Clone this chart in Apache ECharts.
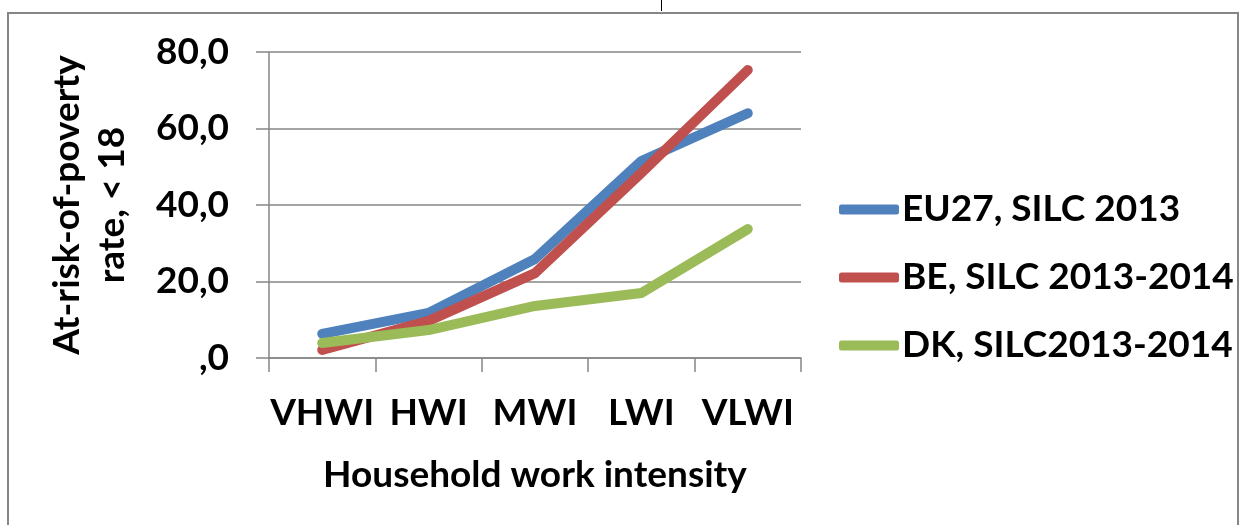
<!DOCTYPE html>
<html>
<head>
<meta charset="utf-8">
<style>
  html, body { margin: 0; padding: 0; background: #fff; }
  #chart { width: 1248px; height: 525px; }
</style>
<script src="https://cdn.jsdelivr.net/npm/echarts@6/dist/echarts.min.js"></script>
</head>
<body>
<div id="chart"></div>
<script>
// household work intensity categories
const categories = ['VHWI', 'HWI', 'MWI', 'LWI', 'VLWI'];
const seriesNames = ['EU27, SILC 2013', 'BE, SILC 2013-2014', 'DK, SILC2013-2014'];
const eu27 = [6.3, 11.8, 25.9, 51.5, 64.0];
const be = [2.1, 9.7, 22.2, 48.4, 75.3];
const dk = [3.9, 7.3, 13.6, 17.0, 33.7];
const colors = ['#4F81BD', '#C0504D', '#9BBB59'];

const FONT = "Lato, 'Open Sans', sans-serif";
const FS = 37;
const AXIS_GREY = '#868686';

const chart = echarts.init(document.getElementById('chart'));

const fmt = v => (v === 0 ? ',0' : v.toFixed(1).replace('.', ','));

const mkSeries = (name, data, color) => ({
  name,
  type: 'line',
  data,
  symbol: 'none',
  lineStyle: { color, width: 10, cap: 'round', join: 'round' },
  itemStyle: { color },
  emphasis: { disabled: true }
});

chart.setOption({
  animation: false,
  textStyle: { fontFamily: FONT, fontWeight: 'bold', color: '#000' },
  grid: { left: 269, right: 447, top: 52, bottom: 167 },
  legend: {
    orient: 'vertical',
    left: 834,
    top: 186,
    itemWidth: 60,
    itemHeight: 10,
    itemGap: 31,
    icon: 'roundRect',
    textStyle: { fontFamily: FONT, fontWeight: 'bold', fontSize: FS, color: '#000', lineHeight: 37, padding: [0, 0, 0, -2] },
    data: seriesNames
  },
  xAxis: {
    type: 'category',
    data: categories,
    boundaryGap: true,
    name: 'Household work intensity',
    nameLocation: 'middle',
    nameGap: 99,
    nameTextStyle: { fontFamily: FONT, fontWeight: 'bold', fontSize: FS, color: '#000' },
    axisLine: { lineStyle: { color: AXIS_GREY, width: 1.5 } },
    axisTick: { show: true, length: 14, lineStyle: { color: AXIS_GREY, width: 1.5 } },
    axisLabel: { interval: 0, fontFamily: FONT, fontWeight: 'bold', fontSize: FS, color: '#000', margin: 37 }
  },
  yAxis: {
    type: 'value',
    min: 0,
    max: 80,
    interval: 20,
    name: 'At-risk-of-poverty\nrate, < 18',
    nameLocation: 'middle',
    nameGap: 134,
    nameRotate: 90,
    nameTextStyle: { fontFamily: FONT, fontWeight: 'bold', fontSize: FS, color: '#000', lineHeight: 45 },
    axisLine: { show: true, lineStyle: { color: AXIS_GREY, width: 1.5 } },
    axisTick: { show: true, length: 13, lineStyle: { color: AXIS_GREY, width: 1.5 } },
    axisLabel: { fontFamily: FONT, fontWeight: 'bold', fontSize: FS, color: '#000', margin: 40, formatter: fmt },
    splitLine: { show: true, lineStyle: { color: AXIS_GREY, width: 1.5 } }
  },
  graphic: [
    {
      type: 'rect',
      shape: { x: 8, y: 13, width: 1230, height: 530 },
      style: { fill: 'none', stroke: AXIS_GREY, lineWidth: 2 },
      silent: true
    },
    {
      type: 'line',
      shape: { x1: 661.5, y1: 0, x2: 661.5, y2: 11 },
      style: { stroke: '#000', lineWidth: 1 },
      silent: true
    }
  ],
  series: [
    mkSeries(seriesNames[0], eu27, colors[0]),
    mkSeries(seriesNames[1], be, colors[1]),
    mkSeries(seriesNames[2], dk, colors[2])
  ]
});
</script>
</body>
</html>
